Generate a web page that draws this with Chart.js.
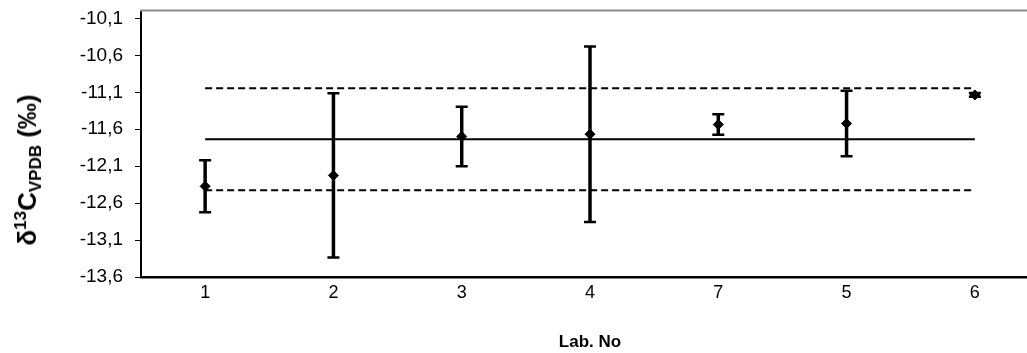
<!DOCTYPE html>
<html><head><meta charset="utf-8">
<script src="https://cdn.jsdelivr.net/npm/chart.js@4"></script>
<style>
html,body{margin:0;padding:0;background:#fff;overflow:hidden;width:1027px;height:353px;}
#wrap{position:relative;width:1045px;height:353px;}
#ytitle{position:absolute;left:28px;top:170px;transform:translate(-50%,-50%) rotate(-90deg);font:bold 26px "Liberation Sans",Arial,sans-serif;white-space:nowrap;color:#000;line-height:1;}
#ytitle sup{font-size:17px;vertical-align:10px;}
#ytitle sub{font-size:17px;vertical-align:-5px;}
</style></head><body>
<div id="wrap"><canvas id="c" width="1045" height="353"></canvas>
<div id="ytitle">δ<sup>13</sup>C<sub>VPDB</sub> (‰)</div></div>
<script>
const labNumbers = ['1', '2', '3', '4', '7', '5', '6'];
const labMeans = [-12.373, -12.225, -11.699, -11.667, -11.537, -11.523, -11.136];
const labUncertainty = [0.352, 1.112, 0.402, 1.188, 0.138, 0.442, 0.025];
const assignedValue = [-11.735, -11.735, -11.735, -11.735, -11.735, -11.735, -11.735];
const upperLimit = [-11.045, -11.045, -11.045, -11.045, -11.045, -11.045, -11.045];
const lowerLimit = [-12.425, -12.425, -12.425, -12.425, -12.425, -12.425, -12.425];
const yTickValues = [-13.6, -13.1, -12.6, -12.1, -11.6, -11.1, -10.6, -10.1];
const yAxisMin = -13.6;
const yAxisMax = -10.0;

const errorBarPlugin = {
  id: 'errorBars',
  beforeDatasetsDraw(chart) {
    const ctx = chart.ctx, xs = chart.scales.x, ys = chart.scales.y;
    ctx.save();
    ctx.strokeStyle = '#000';
    labMeans.forEach((v, i) => {
      const x = xs.getPixelForValue(i);
      const yT = ys.getPixelForValue(v + labUncertainty[i]);
      const yB = ys.getPixelForValue(v - labUncertainty[i]);
      ctx.lineWidth = 3.5;
      ctx.beginPath(); ctx.moveTo(x, yT); ctx.lineTo(x, yB); ctx.stroke();
      ctx.lineWidth = 2.5;
      ctx.beginPath();
      ctx.moveTo(x - 6, yT); ctx.lineTo(x + 6, yT);
      ctx.moveTo(x - 6, yB); ctx.lineTo(x + 6, yB);
      ctx.stroke();
    });
    ctx.restore();
  }
};
const frameTopPlugin = {
  id: 'frameTop',
  afterDraw(chart) {
    const ctx = chart.ctx, a = chart.chartArea;
    ctx.save();
    ctx.strokeStyle = '#8a8a8a';
    ctx.lineWidth = 2;
    ctx.beginPath(); ctx.moveTo(a.left - 1, a.top - 0.5); ctx.lineTo(a.right, a.top - 0.5); ctx.stroke();
    ctx.restore();
  }
};

const fontFam = '"Liberation Sans", Arial, sans-serif';
new Chart(document.getElementById('c'), {
  type: 'line',
  data: {
    labels: labNumbers,
    datasets: [
      { label: 'Assigned value', data: assignedValue, borderColor: '#000', borderWidth: 2, pointRadius: 0, fill: false, order: 3 },
      { label: 'Upper limit', data: upperLimit, borderColor: '#000', borderWidth: 2, borderDash: [7, 4], pointRadius: 0, fill: false, order: 3 },
      { label: 'Lower limit', data: lowerLimit, borderColor: '#000', borderWidth: 2, borderDash: [7, 4], pointRadius: 0, fill: false, order: 3 },
      { label: 'Lab result', data: labMeans, showLine: false, pointStyle: 'rectRot', pointRadius: 5, pointBackgroundColor: '#000', pointBorderColor: '#000', pointBorderWidth: 1, order: 1 }
    ]
  },
  options: {
    responsive: false,
    animation: false,
    devicePixelRatio: 1,
    layout: { padding: { top: 11, right: 6, left: 0, bottom: 0 } },
    plugins: { legend: { display: false }, tooltip: { enabled: false } },
    scales: {
      x: {
        offset: true,
        grid: { display: false, drawTicks: false },
        border: { display: true, color: '#000', width: 2.5 },
        ticks: { color: '#000', font: { family: fontFam, size: 18 }, padding: 5, maxRotation: 0 },
        title: { display: true, text: 'Lab. No', color: '#000', font: { family: fontFam, size: 17, weight: 'bold' }, padding: { top: 17, bottom: 0 } },
        afterFit(s) { s.height = 76; }
      },
      y: {
        min: yAxisMin,
        max: yAxisMax,
        afterBuildTicks(s) { s.ticks = yTickValues.map(v => ({ value: v })); },
        grid: { drawOnChartArea: false, drawTicks: true, tickLength: 6, color: '#000', lineWidth: 1 },
        border: { display: true, color: '#000', width: 2 },
        ticks: { color: '#000', font: { family: fontFam, size: 19 }, padding: 12, callback: v => v.toFixed(1).replace('.', ',') },
        afterFit(s) { s.width = 141; s.paddingTop = 0; s.paddingBottom = 0; }
      }
    }
  },
  plugins: [errorBarPlugin, frameTopPlugin]
});
</script>
</body></html>
